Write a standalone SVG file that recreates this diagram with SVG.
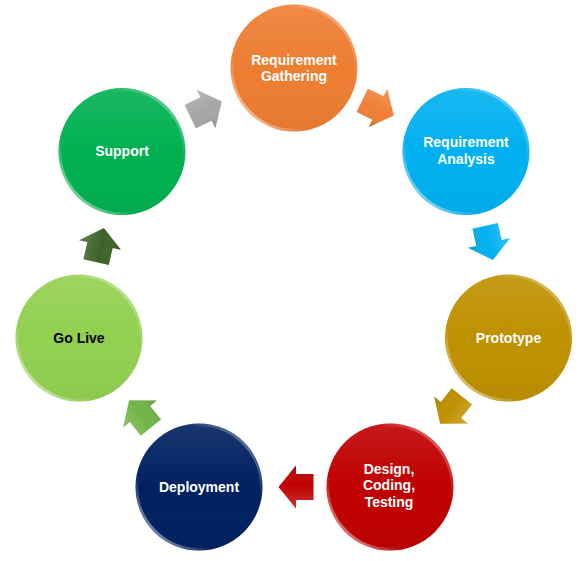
<svg xmlns="http://www.w3.org/2000/svg" width="580" height="561" viewBox="0 0 580 561">
<defs>
<linearGradient id="shade" x1="0" y1="0" x2="0" y2="1">
<stop offset="0" stop-color="#fff" stop-opacity="0.1"/>
<stop offset="0.5" stop-color="#fff" stop-opacity="0"/>
<stop offset="1" stop-color="#000" stop-opacity="0.04"/>
</linearGradient>
<linearGradient id="rim" x1="0" y1="1" x2="1" y2="0">
<stop offset="0" stop-color="#fff" stop-opacity="0.85"/>
<stop offset="0.3" stop-color="#fff" stop-opacity="0"/>
<stop offset="0.7" stop-color="#fff" stop-opacity="0"/>
<stop offset="1" stop-color="#fff" stop-opacity="0.55"/>
</linearGradient>
<linearGradient id="ashade" x1="0" y1="0" x2="0" y2="1">
<stop offset="0" stop-color="#fff" stop-opacity="0.2"/>
<stop offset="0.55" stop-color="#fff" stop-opacity="0"/>
<stop offset="1" stop-color="#000" stop-opacity="0.18"/>
</linearGradient>
<path id="arr" d="M-17.5,-13 L0,-13 L0,-21.5 L17.5,0 L0,21.5 L0,13 L-17.5,13 Z"/>
</defs>
<style>
.lbl{font-family:"Liberation Sans",Arial,sans-serif;font-weight:bold;font-size:14px;fill:#fff;text-anchor:middle}
.dark{fill:#000}
.ov{fill:url(#shade)}
.rim{fill:none;stroke:url(#rim);stroke-width:2.5}
.aov{fill:url(#ashade)}
</style>
<rect width="580" height="561" fill="#fff"/>
<g id="connectors">
<g transform="translate(378,108) rotate(25.7)"><use href="#arr" fill="#F07F33"/><use href="#arr" class="aov"/></g>
<g transform="translate(489,243) rotate(77.1)"><use href="#arr" fill="#00B0F0"/><use href="#arr" class="aov"/></g>
<g transform="translate(451,410) rotate(128.6)"><use href="#arr" fill="#BF9000"/><use href="#arr" class="aov"/></g>
<g transform="translate(296,487) rotate(180)"><use href="#arr" fill="#C00000"/><use href="#arr" class="aov"/></g>
<g transform="translate(140,414) rotate(231.4)"><use href="#arr" fill="#70B347"/><use href="#arr" class="aov"/></g>
<g transform="translate(100,245) rotate(282.9)"><use href="#arr" fill="#3B6128"/><use href="#arr" class="aov"/></g>
<g transform="translate(206,109) rotate(334.3)"><use href="#arr" fill="#A5A5A5"/><use href="#arr" class="aov"/></g>
</g>
<g id="req-gathering">
<circle cx="294" cy="68" r="63.5" fill="#ED7D31"/><circle cx="294" cy="68" r="63.5" class="ov"/><circle cx="294" cy="68" r="62" class="rim"/>
<text class="lbl" x="294" y="64.5">Requirement</text><text class="lbl" x="294" y="81">Gathering</text>
</g>
<g id="req-analysis">
<circle cx="466" cy="151.5" r="63.5" fill="#00B0F0"/><circle cx="466" cy="151.5" r="63.5" class="ov"/><circle cx="466" cy="151.5" r="62" class="rim"/>
<text class="lbl" x="466" y="147">Requirement</text><text class="lbl" x="466" y="163.5">Analysis</text>
</g>
<g id="prototype">
<circle cx="508.5" cy="338" r="63.5" fill="#BF9000"/><circle cx="508.5" cy="338" r="63.5" class="ov"/><circle cx="508.5" cy="338" r="62" class="rim"/>
<text class="lbl" x="508.5" y="342.5">Prototype</text>
</g>
<g id="design-coding-testing">
<circle cx="390" cy="487" r="63.5" fill="#C00000"/><circle cx="390" cy="487" r="63.5" class="ov"/><circle cx="390" cy="487" r="62" class="rim"/>
<text class="lbl" x="389" y="473.5">Design,</text><text class="lbl" x="389" y="490">Coding,</text><text class="lbl" x="389" y="506.5">Testing</text>
</g>
<g id="deployment">
<circle cx="199" cy="487" r="63.5" fill="#002060"/><circle cx="199" cy="487" r="63.5" class="ov"/><circle cx="199" cy="487" r="62" class="rim"/>
<text class="lbl" x="199" y="492">Deployment</text>
</g>
<g id="go-live">
<circle cx="79" cy="338" r="63.5" fill="#92D050"/><circle cx="79" cy="338" r="63.5" class="ov"/><circle cx="79" cy="338" r="62" class="rim"/>
<text class="lbl dark" x="79" y="342.5">Go Live</text>
</g>
<g id="support">
<circle cx="122" cy="151.5" r="63.5" fill="#00B050"/><circle cx="122" cy="151.5" r="63.5" class="ov"/><circle cx="122" cy="151.5" r="62" class="rim"/>
<text class="lbl" x="122" y="156">Support</text>
</g>
</svg>
